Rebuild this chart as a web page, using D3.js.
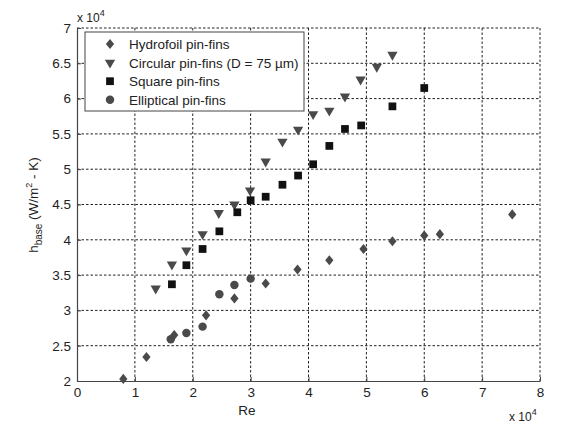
<!DOCTYPE html>
<html>
<head>
<meta charset="utf-8" />
<script src="https://cdnjs.cloudflare.com/ajax/libs/d3/7.8.5/d3.min.js"></script>
<style>
  body { margin: 0; background: #fff; }
  svg { font-family: "Liberation Sans", Arial, sans-serif; }
  .grid line { stroke: #222; stroke-dasharray: 2.5,2; stroke-width: 1; }
</style>
</head>
<body>
<div id="chart"></div>
<script>
  // values in units of 1e4
  const hydroRe = [0.80, 1.20, 1.68, 2.23, 2.72, 3.26, 3.81, 4.36, 4.95, 5.45, 6.00, 6.27, 7.52]
  const hydroH  = [2.03, 2.34, 2.65, 2.93, 3.17, 3.38, 3.58, 3.71, 3.87, 3.98, 4.06, 4.08, 4.36]

  const circRe = [1.36, 1.64, 1.89, 2.17, 2.45, 2.72, 2.99, 3.26, 3.55, 3.82, 4.08, 4.36, 4.63, 4.90, 5.18, 5.45]
  const circH  = [3.31, 3.65, 3.85, 4.08, 4.38, 4.50, 4.70, 5.11, 5.39, 5.56, 5.78, 5.83, 6.03, 6.27, 6.45, 6.62]

  const squareRe = [1.64, 1.89, 2.17, 2.46, 2.77, 3.00, 3.26, 3.55, 3.82, 4.08, 4.36, 4.63, 4.91, 5.45, 6.00]
  const squareH  = [3.37, 3.64, 3.87, 4.12, 4.39, 4.56, 4.61, 4.78, 4.91, 5.07, 5.33, 5.57, 5.62, 5.89, 6.15]

  const ellRe = [1.62, 1.89, 2.17, 2.46, 2.72, 3.00]
  const ellH  = [2.59, 2.68, 2.77, 3.23, 3.36, 3.45]

  const xTicks = [0, 1, 2, 3, 4, 5, 6, 7, 8]
  const yTicks = [2, 2.5, 3, 3.5, 4, 4.5, 5, 5.5, 6, 6.5, 7]

  const series = [
    { name: 'Hydrofoil pin-fins', re: hydroRe, h: hydroH, shape: 'diamond', color: '#4a4a4a' },
    { name: 'Circular pin-fins (D = 75 \u00b5m)', re: circRe, h: circH, shape: 'triangle', color: '#4a4a4a' },
    { name: 'Square pin-fins', re: squareRe, h: squareH, shape: 'square', color: '#111' },
    { name: 'Elliptical pin-fins', re: ellRe, h: ellH, shape: 'circle', color: '#4a4a4a' }
  ]

  const W = 567, H = 427
  const margin = { left: 77, right: 27, top: 28, bottom: 46 }
  const iw = W - margin.left - margin.right
  const ih = H - margin.top - margin.bottom

  const svg = d3.select('#chart').append('svg')
    .attr('width', W).attr('height', H)

  const g = svg.append('g').attr('transform', `translate(${margin.left},${margin.top})`)

  const x = d3.scaleLinear().domain([0, 8]).range([0, iw])
  const y = d3.scaleLinear().domain([2, 7]).range([ih, 0])

  // grid
  const grid = g.append('g').attr('class', 'grid')
  grid.selectAll('.vx').data(xTicks.slice(1)).enter().append('line')
    .attr('x1', d => x(d)).attr('x2', d => x(d)).attr('y1', 0).attr('y2', ih)
  grid.selectAll('.hy').data(yTicks.slice(1)).enter().append('line')
    .attr('x1', 0).attr('x2', iw).attr('y1', d => y(d)).attr('y2', d => y(d))

  // axes
  const xAxis = g.append('g').attr('transform', `translate(0,${ih})`)
    .call(d3.axisBottom(x).tickValues(xTicks).tickFormat(d3.format('d')).tickSizeInner(-4).tickSizeOuter(0).tickPadding(6))
  const yAxis = g.append('g')
    .call(d3.axisLeft(y).tickValues(yTicks).tickFormat(d => d).tickSizeInner(-4).tickSizeOuter(0).tickPadding(6))
  ;[xAxis, yAxis].forEach(a => {
    a.select('.domain').attr('stroke', '#444').attr('stroke-width', 1.2)
    a.selectAll('.tick line').attr('stroke', '#444')
    a.selectAll('text').attr('font-size', 13.5).attr('fill', '#222')
      .attr('font-family', '"Liberation Sans", Arial, sans-serif')
  })

  // matlab style diamond: a bit wider than d3's
  const fatDiamond = {
    draw(ctx, size) {
      const a = Math.sqrt(size / 2)
      ctx.moveTo(0, -a * 1.1)
      ctx.lineTo(a * 0.9, 0)
      ctx.lineTo(0, a * 1.1)
      ctx.lineTo(-a * 0.9, 0)
      ctx.closePath()
    }
  }
  const sym = {
    diamond: d3.symbol().type(fatDiamond).size(42),
    triangle: d3.symbol().type(d3.symbolTriangle).size(46),
    square: d3.symbol().type(d3.symbolSquare).size(60),
    circle: d3.symbol().type(d3.symbolCircle).size(56)
  }
  const rot = s => s === 'triangle' ? ' rotate(180)' : ''

  series.forEach(s => {
    g.append('g').selectAll('path').data(s.re.map((r, i) => [r, s.h[i]])).enter()
      .append('path')
      .attr('d', sym[s.shape]())
      .attr('transform', d => `translate(${x(d[0])},${y(d[1])})${rot(s.shape)}`)
      .attr('fill', s.color)
  })

  // legend
  const lg = g.append('g').attr('transform', 'translate(8,4)')
  lg.append('rect').attr('width', 219).attr('height', 79)
    .attr('fill', '#fff').attr('stroke', '#444').attr('stroke-width', 1)
  series.forEach((s, i) => {
    const yy = 12 + i * 18.6
    lg.append('path').attr('d', sym[s.shape]())
      .attr('transform', `translate(25,${yy})${rot(s.shape)}`)
      .attr('fill', s.color)
    lg.append('text').attr('x', 44).attr('y', yy + 5)
      .attr('font-size', 13.5).attr('fill', '#222').text(s.name)
  })

  // axis labels
  svg.append('text').attr('x', 247).attr('y', 415).attr('text-anchor', 'middle')
    .attr('font-size', 13.5).attr('fill', '#222').text('Re')

  const ex1 = svg.append('text').attr('x', 509).attr('y', 421).attr('font-size', 12).attr('fill', '#222')
  ex1.append('tspan').text('x 10')
  ex1.append('tspan').attr('dy', -6).attr('font-size', 9).text('4')

  const ex2 = svg.append('text').attr('x', 77).attr('y', 22).attr('font-size', 12).attr('fill', '#222')
  ex2.append('tspan').text('x 10')
  ex2.append('tspan').attr('dy', -6).attr('font-size', 9).text('4')

  const yl = svg.append('text').attr('transform', 'translate(38,205) rotate(-90)')
    .attr('text-anchor', 'middle').attr('font-size', 13.5).attr('fill', '#222')
  yl.append('tspan').text('h')
  yl.append('tspan').attr('dy', 4).attr('font-size', 10).text('base')
  yl.append('tspan').attr('dy', -4).text(' (W/m')
  yl.append('tspan').attr('dy', -6).attr('font-size', 9).text('2')
  yl.append('tspan').attr('dy', 6).text(' - K)')
</script>
</body>
</html>
